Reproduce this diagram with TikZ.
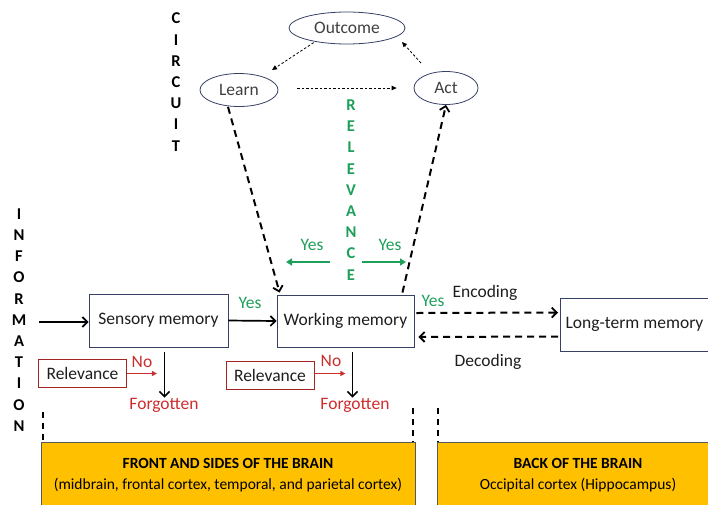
\documentclass[tikz,border=0pt]{standalone}
\usepackage{fontspec}
\setmainfont{Carlito}
\usetikzlibrary{shapes.geometric,arrows.meta,calc}
\definecolor{grn}{RGB}{30,160,90}
\definecolor{rd}{RGB}{205,45,45}
\definecolor{edgeblue}{RGB}{55,65,100}
\definecolor{gold}{RGB}{255,192,0}
\definecolor{txt}{RGB}{30,30,30}
\tikzset{
  mainfont/.style={font=\fontsize{17.5}{20}\selectfont},
  membox/.style={draw=edgeblue, line width=0.9pt, inner sep=0pt, text=txt, mainfont},
  relbox/.style={draw=rd!80!black, line width=0.8pt, inner sep=0pt, minimum width=88pt, minimum height=28pt, text=txt, mainfont},
  ell/.style={ellipse, draw=edgeblue, line width=0.8pt, inner sep=0pt, text=txt!85!white, mainfont},
  vletters/.style={align=center, font=\fontsize{16.5}{21.2}\selectfont\bfseries, inner sep=0pt},
  lbl/.style={inner sep=0pt, mainfont},
  blackarrow/.style={line width=1.7pt, -{Straight Barb[length=5pt,width=10pt,line width=1.7pt]}},
  dasharrow/.style={line width=2pt, dash pattern=on 7pt off 5pt, -{Straight Barb[length=5pt,width=10pt,line width=1.8pt]}},
  dotarrow/.style={line width=0.8pt, dash pattern=on 2.5pt off 2pt, -{Triangle[length=5pt,width=4.5pt]}},
  grnarrow/.style={grn, line width=1.6pt, -{Triangle[length=6pt,width=7pt]}},
  redarrow/.style={rd, line width=0.9pt, -{Triangle[length=5pt,width=5pt]}},
  vdash/.style={line width=1.6pt, dash pattern=on 6pt off 5pt},
  brainbox/.style={fill=gold, draw=gray!70!black, line width=0.6pt},
}
\begin{document}
\begin{tikzpicture}[x=1pt,y=-1pt]
\clip (0,0) rectangle (708,504);
\fill[white] (0,0) rectangle (708,504);

% circuit ellipses
\node[ell, minimum width=116pt, minimum height=32pt] (outcome) at (347,28) {Outcome};
\node[ell, minimum width=78pt, minimum height=33pt] (learn) at (239,90) {Learn};
\node[ell, minimum width=64pt, minimum height=33pt] (act) at (446,88) {Act};

\draw[dotarrow] ($(outcome.south west)+(8,3)$) coordinate (o1) -- (272,70) coordinate (l1);
\draw[dotarrow] (421,63) coordinate (a1) -- (402,42) coordinate (o2);
\draw[dotarrow] ($(learn.east)+(19,-2)$) -- ($(act.west)+(-17,0)$);

% vertical words
\node[vletters] (circuit) at (176,82) {C\\I\\R\\C\\U\\I\\T};
\node[vletters, text=grn] (relev) at (351,190) {R\\E\\L\\E\\V\\A\\N\\C\\E};
\node[vletters] (inform) at (19,320) {I\\N\\F\\O\\R\\M\\A\\T\\I\\O\\N};

% memory boxes
\node[membox, minimum width=139pt, minimum height=53pt] (sens) at (158.5,320.5) {Sensory memory};
\node[membox, minimum width=137pt, minimum height=52pt] (wm) at (345.5,321) {Working memory};
\node[membox, minimum width=160pt, minimum height=53pt, anchor=west] (ltm) at (560,324.5) {Long-term memory\hspace*{12pt}};

% input arrow
\coordinate (in) at (39,322);
\draw[blackarrow] (in) -- (sens.west |- in);
\draw[blackarrow] (sens.east) -- (wm.west);
\node[lbl, text=grn] (yes1) at (250,303) {Yes};

% dashed arrows circuit <-> working memory
\draw[dasharrow] ($(learn.south)+(-11,0)$) -- ($(wm.north west)+(3,-2)$);
\draw[dasharrow] ($(wm.north east)+(-12,-2)$) -- (act.south);

% relevance yes arrows
\coordinate (gl1) at (330,262); \coordinate (gl2) at (286,262);
\coordinate (gr1) at (362,262); \coordinate (gr2) at (406,262);
\draw[grnarrow] (gl1) -- (gl2);
\draw[grnarrow] (gr1) -- (gr2);
\node[lbl, text=grn] (yes2) at (312,245) {Yes};
\node[lbl, text=grn] (yes3) at (390,245) {Yes};

% encoding / decoding
\node[lbl, text=grn] (yes4) at (433,301) {Yes};
\node[lbl, text=txt] (enc) at (485,293) {Encoding};
\node[lbl, text=txt] (dec) at (488,362) {Decoding};
\draw[dasharrow] ($(wm.east)+(2,-8)$) -- ($(ltm.west)+(-2,-12)$);
\draw[dasharrow] ($(ltm.west)+(-2,12)$) -- ($(wm.east)+(4,16)$);

% relevance / forgotten
\node[relbox] (rel1) at (82.5,373.5) {Relevance};
\node[relbox] (rel2) at (270,375.5) {Relevance};
\node[lbl, text=rd] (no1) at (142,362) {No};
\node[lbl, text=rd] (no2) at (331,361) {No};
\draw[redarrow] (rel1.east) -- ++(30,0) coordinate (r1);
\draw[redarrow] ($(rel2.east)+(0,-2)$) -- ++(31,0) coordinate (r2);
\node[lbl, text=rd] (forg1) at (164,405) {Forgotten};
\node[lbl, text=rd] (forg2) at (355,405) {Forgotten};
\draw[blackarrow] ($(sens.south)+(6,5)$) -- (forg1.north -| 164.5,0);
\draw[blackarrow] ($(wm.south)+(7,5)$) -- (forg2.north -| 352.5,0);

% brain regions
\node[brainbox, minimum width=374pt, minimum height=70pt, inner sep=0pt, anchor=north west] (front) at (41,442) {};
\node[brainbox, minimum width=280pt, minimum height=70pt, inner sep=0pt, anchor=north west] (back) at (437,442) {};
\node[inner sep=0pt, align=center, font=\fontsize{15.5}{20.5}\selectfont] (ftxt) at (228,475)
  {\textbf{FRONT AND SIDES OF THE BRAIN}\\(midbrain, frontal cortex, temporal, and parietal cortex)};
\node[inner sep=0pt, align=center, font=\fontsize{15.5}{20.5}\selectfont] (btxt) at (578,475)
  {\textbf{BACK OF THE BRAIN}\\Occipital cortex (Hippocampus)};

% dashed verticals
\draw[vdash] (43,412) -- (front.north west -| 43,0);
\draw[vdash] (413,408) -- (front.north east -| 413,0);
\draw[vdash] (438,408) -- (back.north west -| 438,0);
\end{tikzpicture}
\end{document}
